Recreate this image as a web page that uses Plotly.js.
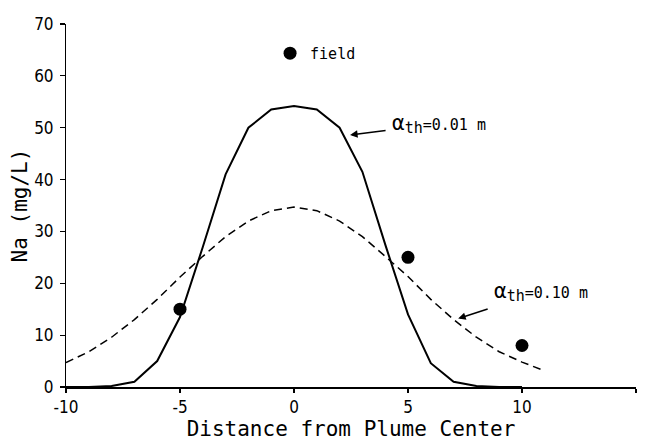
<!DOCTYPE html>
<html>
<head>
<meta charset="utf-8">
<script src="https://cdn.plot.ly/plotly-3.0.1.min.js"></script>
<style>html,body{margin:0;padding:0;background:#fff;}#chart{width:645px;height:441px;}</style>
</head>
<body>
<div id="chart"></div>
<script>
// Model curve, alpha_th = 0.01 m (solid)
const xSolid = [-10,-9,-8,-7,-6,-5,-4,-3,-2,-1,0,1,2,3,4,5,6,7,8,9,10];
const ySolid = [0,0,0.2,1,5,13.5,27,41,50,53.5,54.2,53.5,50,41.5,27.5,14,4.6,1,0.2,0,0];
// Model curve, alpha_th = 0.10 m (dashed)
const xDash = [-10,-9,-8,-7,-6,-5,-4,-3,-2,-1,0,1,2,3,4,5,6,7,8,9,10,11];
const yDash = [4.7,6.8,9.6,13.0,16.9,21.2,25.2,29.0,32.0,34.0,34.7,34.0,32.0,29.0,25.2,21.3,16.9,13.0,9.6,6.8,4.8,3.1];
// Field observations
const xField = [-5,5,10];
const yField = [15,25,8];
const xTicks = [-10,-5,0,5,10,15];
const yTicks = [0,10,20,30,40,50,60,70];

const mono = "DejaVu Sans Mono, Liberation Mono, monospace";
const narrow = "Liberation Sans Narrow, DejaVu Sans Condensed, Liberation Sans, sans-serif";

const traces = [
  {x: xSolid, y: ySolid, mode: 'lines', line: {color: '#000', width: 2}, showlegend: false, hoverinfo: 'skip'},
  {x: xDash, y: yDash, mode: 'lines', line: {color: '#000', width: 1.5, dash: '8px,5px'}, showlegend: false, hoverinfo: 'skip'},
  {x: xField, y: yField, mode: 'markers', name: 'field', marker: {color: '#000', size: 13, symbol: 'circle'}, showlegend: true}
];

const lbl = (v) => '<span style="font-size:21px">α</span><sub><span style="font-size:15px">th</span></sub>=' + v + ' m';

const layout = {
  width: 645, height: 441,
  margin: {l: 66, r: 9, t: 24, b: 54},
  paper_bgcolor: '#fff', plot_bgcolor: '#fff',
  showlegend: true,
  legend: {x: 0.358, y: 0.919, xanchor: 'left', yanchor: 'middle', bgcolor: 'rgba(0,0,0,0)', borderwidth: 0,
           font: {family: mono, size: 15, color: '#000'}},
  xaxis: {range: [-10, 15], tickvals: xTicks, ticktext: xTicks.map(String), ticks: 'outside', ticklen: 4, tickwidth: 1.2,
          tickcolor: '#000', showline: true, linecolor: '#000', linewidth: 1.5, showgrid: false, zeroline: false,
          tickfont: {family: narrow, size: 17, color: '#000'},
          title: {text: 'Distance from Plume Center', font: {family: mono, size: 21, color: '#000'}, standoff: 8}},
  yaxis: {range: [0, 70], tickvals: yTicks, ticktext: yTicks.map(String), ticks: 'outside', ticklen: 5, tickwidth: 1.2,
          tickcolor: '#000', showline: true, linecolor: '#000', linewidth: 1, showgrid: false, zeroline: false,
          ticklabelstandoff: 3,
          tickfont: {family: narrow, size: 17, color: '#000'},
          title: {text: 'Na (mg/L)', font: {family: mono, size: 21, color: '#000'}, standoff: 0}},
  annotations: [
    {x: 2.46, y: 48.6, ax: 89, ay: -11, showarrow: true, arrowhead: 2, arrowsize: 1, arrowwidth: 1.5, arrowcolor: '#000',
     borderpad: 6, text: lbl('0.01'), font: {family: mono, size: 15, color: '#000'}},
    {x: 7.2, y: 13.2, ax: 83, ay: -27, showarrow: true, arrowhead: 2, arrowsize: 1, arrowwidth: 1.5, arrowcolor: '#000',
     borderpad: 6, text: lbl('0.10'), font: {family: mono, size: 15, color: '#000'}}
  ]
};

Plotly.newPlot('chart', traces, layout, {displayModeBar: false, staticPlot: true});
</script>
</body>
</html>
